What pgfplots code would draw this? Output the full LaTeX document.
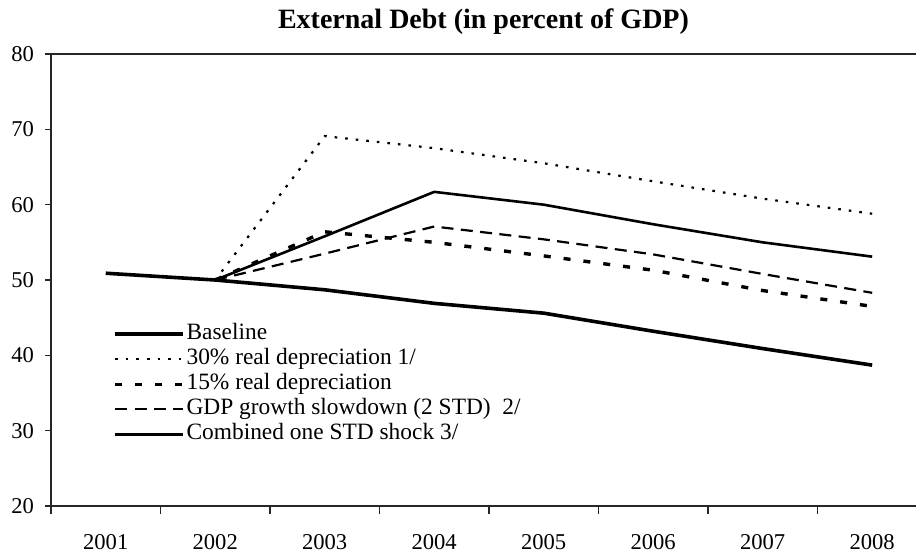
\documentclass[border=0pt]{standalone}
\usepackage{pgfplots}
\pgfplotsset{compat=1.18}
\usepackage{fontspec}
\setmainfont{Liberation Serif}
\begin{document}
\begin{tikzpicture}
\begin{axis}[
  at={(0,0)}, anchor=south west,
  scale only axis, width=432.5pt, height=226pt,
  xmin=2000.5, xmax=2008.4, ymin=20, ymax=80,
  axis x line*=bottom, axis y line*=left,
  axis line style={line width=0.7pt, black!85},
  xtick={2001,...,2008},
  xticklabels={2001,2002,2003,2004,2005,2006,2007,2008},
  major x tick style={draw=none},
  minor xtick={2000.5,2001.5,...,2007.5},
  minor x tick style={line width=0.7pt, black!85},
  minor tick length=4pt,
  ytick={20,30,...,80},
  major tick length=3pt,
  y tick style={line width=0.7pt, black!85},
  tick align=outside,
  tick label style={font=\fontsize{11.3}{13}\selectfont},
  /pgf/number format/assume math mode=true,
  yticklabel style={xshift=-2pt},
  xticklabel style={yshift=-7.5pt},
  title={\textbf{External Debt (in percent of GDP)}},
  title style={font=\fontsize{14}{16}\selectfont, at={(0.5,1)}, anchor=base, yshift=7pt},
  legend style={draw=none, fill=none, at={(0.0647,0.413)}, anchor=north west,
    font=\fontsize{11.7}{13}\selectfont, row sep=2pt, column sep=0.8pt,
    nodes={inner sep=0pt, text height=8pt, text depth=2.5pt}},
  legend cell align=left,
  legend image code/.code={\draw[#1] (0pt,0pt) -- (34pt,0pt);},
  clip=false,
]
\draw[line width=0.7pt, black!85] (rel axis cs:0,1) -- (rel axis cs:1,1);
\addplot[black, line width=1.8pt] coordinates {
 (2001,50.9) (2002,50.0) (2003,48.7) (2004,46.9) (2005,45.6) (2006,43.2) (2007,40.9) (2008,38.7)};
\addlegendentry{Baseline}
\addplot[black, line width=1.1pt, dash pattern=on 1.3pt off 4pt] coordinates {
 (2002,50.0) (2003,69.1) (2004,67.5) (2005,65.5) (2006,63.1) (2007,60.8) (2008,58.8)};
\addlegendentry{30\% real depreciation 1/}
\addplot[black, line width=1.7pt, dash pattern=on 3.5pt off 6.5pt] coordinates {
 (2002,50.0) (2003,56.4) (2004,55.0) (2005,53.2) (2006,51.3) (2007,48.6) (2008,46.5)};
\addlegendentry{15\% real depreciation}
\addplot[black, line width=1.1pt, dash pattern=on 6pt off 3.7pt] coordinates {
 (2002,50.0) (2003,53.5) (2004,57.1) (2005,55.4) (2006,53.4) (2007,50.8) (2008,48.3)};
\addlegendentry{GDP growth slowdown (2 STD)\ \ 2/}
\addplot[black, line width=1.3pt] coordinates {
 (2002,50.0) (2003,55.8) (2004,61.7) (2005,60.0) (2006,57.4) (2007,55.0) (2008,53.1)};
\addlegendentry{Combined one STD shock 3/}
\end{axis}
\pgfresetboundingbox
\path[use as bounding box] (-25.5pt,-23.5pt) rectangle (432.5pt,253pt);
\end{tikzpicture}
\end{document}
